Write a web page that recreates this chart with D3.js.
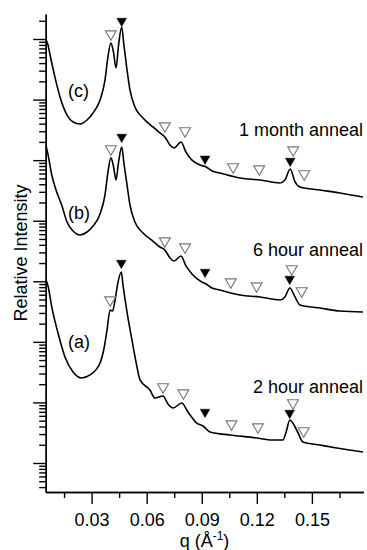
<!DOCTYPE html>
<html>
<head>
<meta charset="utf-8">
<script src="https://cdn.jsdelivr.net/npm/d3@7"></script>
<style>
  body { margin: 0; background: #fff; }
  text { font-family: "Liberation Sans", Arial, sans-serif; fill: #000; }
</style>
</head>
<body>
<svg id="chart" width="367" height="550"></svg>
<script>
// Scattering profiles, intensity vs q (1/Å), three anneal times (stacked on a log axis)
const qA = [0.0052,0.0064,0.0083,0.0117,0.0155,0.0199,0.0246,0.0291,0.0346,0.0368,0.0384,0.0401,0.0414,0.0428,0.0444,0.0462,0.0471,0.0493,0.0520,0.0542,0.0564,0.0618,0.0645,0.0689,0.0716,0.0744,0.0791,0.0825,0.0873,0.0907,0.0945,0.1054,0.1199,0.1271,0.1342,0.1358,0.1380,0.1417,0.1452,0.1544,0.1635,0.1778];
const intensityA = [1050,805,377,140,56.2,31.8,25.3,28.4,44.8,79.2,157,336,323,491,973,1420,869,311,107,46.5,23.5,16.0,11.8,12.8,9.42,8.09,9.79,6.95,4.57,4.08,3.25,2.90,2.59,2.40,2.40,3.13,5.13,3.51,2.22,1.98,1.77,1.52];

const qB = [0.0052,0.0063,0.0083,0.0110,0.0137,0.0166,0.0199,0.0237,0.0275,0.0308,0.0346,0.0373,0.0389,0.0405,0.0419,0.0433,0.0447,0.0464,0.0476,0.0493,0.0509,0.0536,0.0580,0.0634,0.0672,0.0699,0.0727,0.0749,0.0787,0.0814,0.0847,0.0891,0.0924,0.0956,0.0999,0.1108,0.1217,0.1326,0.1353,0.1380,0.1408,0.1435,0.1544,0.1653,0.1778];
const intensityB = [1.71e5,1.22e5,5.69e4,2.98e4,1.82e4,9.53e3,6.76e3,5.81e3,6.51e3,8.18e3,1.29e4,2.66e4,6.37e4,1.09e5,8.0e4,4.70e4,9.33e4,1.65e5,8.97e4,3.89e4,1.82e4,9.53e3,6.27e3,4.62e3,3.68e3,3.29e3,2.43e3,2.16e3,2.62e3,1.79e3,1.32e3,1.01e3,902,775,718,594,551,491,551,775,551,406,362,323,311];

const qC = [0.0052,0.0063,0.0073,0.0101,0.0128,0.0166,0.0199,0.0237,0.0275,0.0308,0.0346,0.0373,0.0389,0.0405,0.0419,0.0433,0.0447,0.0464,0.0476,0.0491,0.0509,0.0536,0.0580,0.0634,0.0672,0.0699,0.0727,0.0749,0.0787,0.0814,0.0847,0.0891,0.0924,0.0956,0.0999,0.1108,0.1217,0.1326,0.1353,0.1382,0.1408,0.1435,0.1544,0.1653,0.1778];
const intensityC = [9.64e6,7.9e6,5.6e6,2.3e6,1.1e6,5.56e5,4.27e5,3.95e5,4.60e5,6.0e5,9.84e5,2.10e6,5.05e6,8.59e6,6.11e6,3.32e6,7.96e6,1.58e7,7.96e6,3.45e6,1.44e6,7.55e5,4.97e5,3.53e5,2.81e5,2.41e5,1.78e5,1.59e5,1.99e5,1.36e5,1.00e5,8.31e4,7.71e4,6.62e4,6.14e4,5.07e4,4.70e4,4.20e4,4.70e4,7.14e4,4.36e4,3.60e4,3.21e4,2.87e4,2.46e4];

// Reflection markers: q, intensity where the marker sits, filled (1) or open (0)
const markerQA = [0.0401,0.0462,0.0689,0.0800,0.0918,0.1062,0.1206,0.1397,0.1379,0.1455];
const markerIA = [491,2.00e3,18.0,14.3,6.95,4.40,3.93,9.79,6.69,3.38];
const markerQB = [0.0405,0.0464,0.0699,0.0809,0.0918,0.1058,0.1199,0.1390,0.1379,0.1444];
const markerIB = [1.53e5,2.41e5,4.62e3,3.68e3,1.42e3,973,836,1.60e3,1.09e3,692];
const markerQC = [0.0405,0.0464,0.0699,0.0809,0.0918,0.1071,0.1213,0.1398,0.1382,0.1458];
const markerIC = [1.21e7,1.98e7,3.66e5,3.03e5,1.05e5,7.71e4,7.14e4,1.47e5,9.68e4,5.91e4];
const markerFilled = [0,1,0,0,1,0,0,0,1,0];

const xMajorTicks = [0.03,0.06,0.09,0.12,0.15];
const xMinorTicks = [0.015,0.045,0.075,0.105,0.135,0.165];
const curveLetters = ["(a)","(b)","(c)"];
const annealLabels = ["2 hour anneal","6 hour anneal","1 month anneal"];

const svg = d3.select("#chart");
const plotLeft = 45.7, plotRight = 363.3, plotTop = 14, plotBottom = 492;

const x = d3.scaleLinear().domain([0.005, 0.178]).range([plotLeft, plotRight]);
const y = d3.scaleLog().domain([0.332, 2.587e7]).range([plotBottom, plotTop]);

// y ticks: decades as majors, 2..9 as minors
const yMajor = d3.range(0, 8).map(e => Math.pow(10, e));
const yMinor = [];
for (let e = -1; e <= 7; e++) for (let m = 2; m <= 9; m++) {
  const v = m * Math.pow(10, e);
  if (v >= y.domain()[0] && v <= y.domain()[1]) yMinor.push(v);
}

function styleAxis(g) {
  g.selectAll("path.domain").attr("stroke", "#000").attr("stroke-width", 1.4);
  g.selectAll(".tick line").attr("stroke", "#000").attr("stroke-width", 1.4);
}

svg.append("g").attr("transform", `translate(${plotLeft},0)`)
  .call(d3.axisLeft(y).tickValues(yMinor).tickSize(6.5).tickSizeOuter(0).tickFormat(""))
  .call(styleAxis);
svg.append("g").attr("transform", `translate(${plotLeft},0)`)
  .call(d3.axisLeft(y).tickValues(yMajor).tickSize(12.5).tickSizeOuter(0).tickFormat(""))
  .call(styleAxis);

svg.append("g").attr("transform", `translate(0,${plotBottom})`)
  .call(d3.axisBottom(x).tickValues(xMinorTicks).tickSize(6).tickSizeOuter(0).tickFormat(""))
  .call(styleAxis);
const xAx = svg.append("g").attr("transform", `translate(0,${plotBottom})`)
  .call(d3.axisBottom(x).tickValues(xMajorTicks).tickSize(12).tickSizeOuter(0).tickFormat(d3.format(".2f")))
  .call(styleAxis);
xAx.attr("font-family", null).attr("font-size", null);
xAx.selectAll(".tick text").attr("font-size", 18).attr("dy", null).attr("y", 34);

// curves
const line = d3.line().x(d => x(d[0])).y(d => y(d[1])).curve(d3.curveMonotoneX);
const series = [[qA, intensityA], [qB, intensityB], [qC, intensityC]];
series.forEach(([qs, vals]) => {
  svg.append("path")
    .datum(qs.map((q, i) => [q, vals[i]]))
    .attr("d", line)
    .attr("fill", "none")
    .attr("stroke", "#000")
    .attr("stroke-width", 1.6)
    .attr("stroke-linejoin", "round");
});

// reflection markers (downward triangles)
const tri = d3.symbol().type(d3.symbolTriangle);
[[markerQA, markerIA], [markerQB, markerIB], [markerQC, markerIC]].forEach(([qs, vals]) => {
  qs.forEach((q, i) => {
    const filled = markerFilled[i] === 1;
    svg.append("path")
      .attr("d", tri.size(filled ? 40 : 52)())
      .attr("transform", `translate(${x(q)},${y(vals[i])}) rotate(180)`)
      .attr("fill", filled ? "#000" : "#fff")
      .attr("stroke", filled ? "#000" : "#777")
      .attr("stroke-width", filled ? 0.5 : 1.1);
  });
});

// curve letters and anneal labels
const letterY = [348, 219, 97];
curveLetters.forEach((t, i) => {
  svg.append("text").attr("x", 68).attr("y", letterY[i]).attr("font-size", 18).text(t);
});
const annealY = [393, 256, 136];
annealLabels.forEach((t, i) => {
  svg.append("text").attr("x", 363).attr("y", annealY[i]).attr("font-size", 18)
    .attr("text-anchor", "end").text(t);
});

// axis titles
svg.append("text")
  .attr("transform", `translate(27,${(plotTop + plotBottom) / 2}) rotate(-90)`)
  .attr("text-anchor", "middle").attr("font-size", 18)
  .text("Relative Intensity");

const xt = svg.append("text").attr("x", (plotLeft + plotRight) / 2).attr("y", 547)
  .attr("text-anchor", "middle").attr("font-size", 18);
xt.append("tspan").text("q (Å");
xt.append("tspan").attr("dy", -7).attr("font-size", 12).text("-1");
xt.append("tspan").attr("dy", 7).text(")");
</script>
</body>
</html>
